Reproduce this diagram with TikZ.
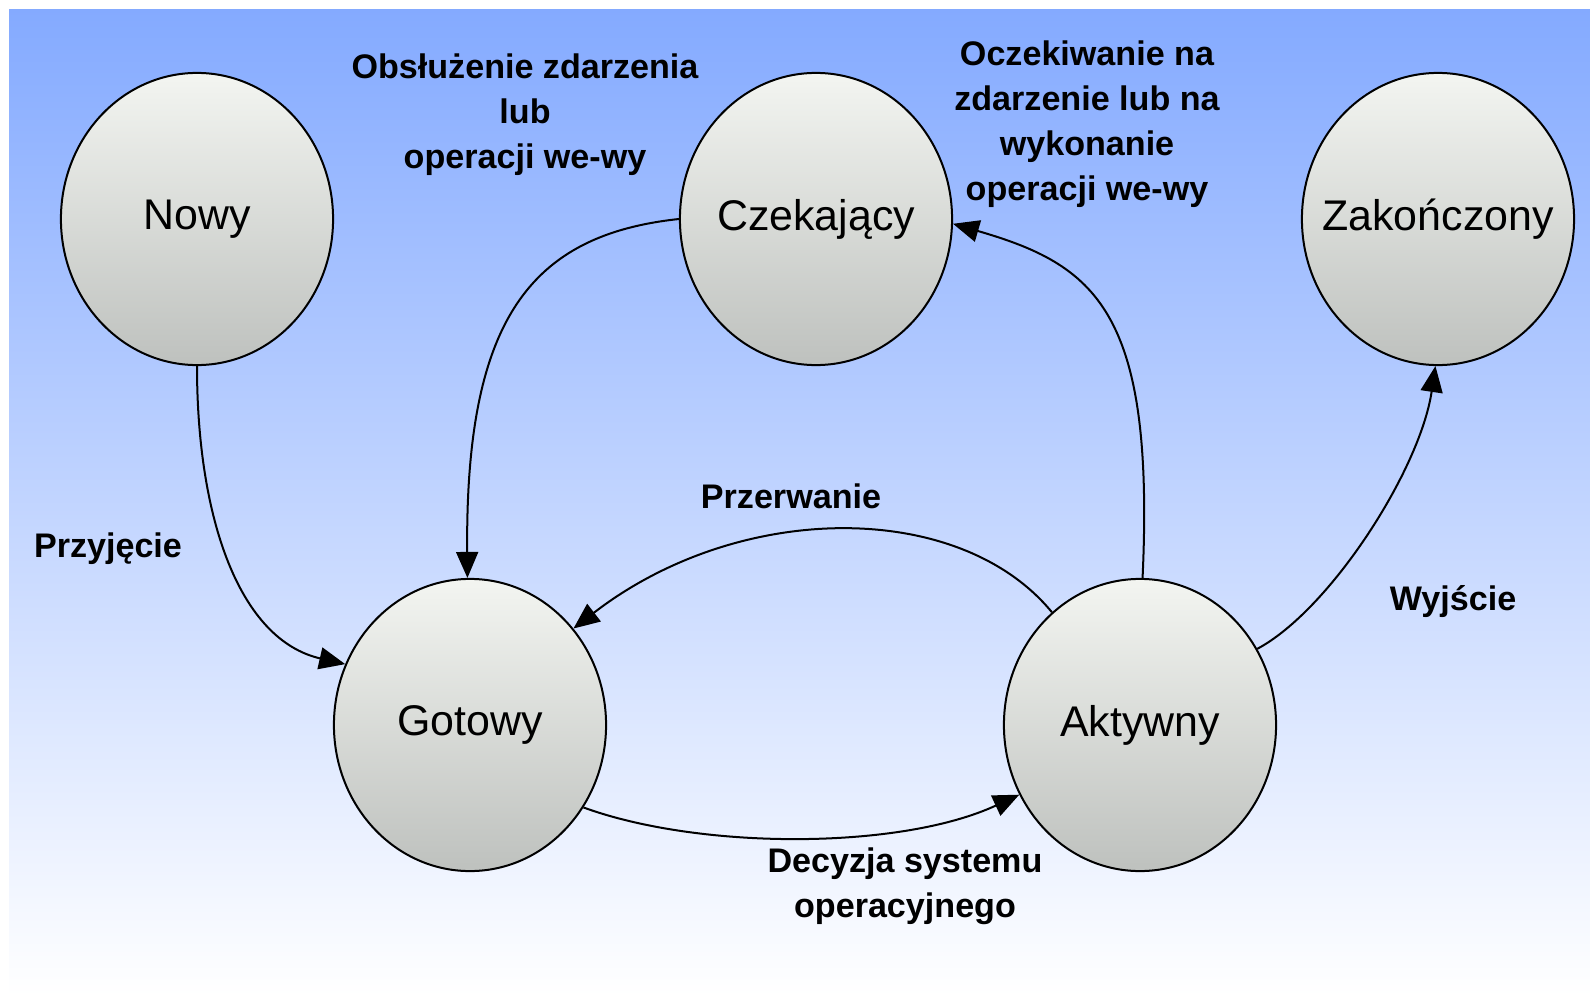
\documentclass[tikz,border=0pt]{standalone}
\usepackage{fontspec}
\setmainfont{Liberation Sans}
\usetikzlibrary{shapes.geometric,arrows.meta}

\definecolor{skyblue}{RGB}{132,170,255}
\definecolor{disctop}{RGB}{243,245,241}
\definecolor{discbot}{RGB}{190,193,190}

% state names are set in a zero-width box so that every disc keeps the same size
\newcommand{\stname}[1]{\makebox[0pt]{#1}}

\begin{document}
\begin{tikzpicture}[x=0.01cm,y=-0.01cm,
  state/.style={ellipse, draw=black, line width=0.02cm,
    minimum width=2.72cm, minimum height=2.92cm, inner sep=0pt,
    top color=disctop, bottom color=discbot,
    font=\fontsize{12.2pt}{14pt}\selectfont},
  lbl/.style={font=\bfseries\fontsize{9.7pt}{12.8pt}\selectfont,
    align=center, inner sep=0pt},
  trans/.style={line width=0.02cm, -{Triangle[length=0.26cm,width=0.22cm]}}]

% page and sky-blue backdrop
\useasboundingbox (0,0) rectangle (1590,1000);
\fill[white] (0,0) rectangle (1590,1000);
\shade[top color=skyblue, bottom color=white] (9,9) rectangle (1590,996);

% process states
\node[state] (nowy)    at (197,219)  {\stname{Nowy}};
\node[state] (czek)    at (816,219)  {\stname{Czekający}};
\node[state] (zak)     at (1438,219) {\stname{Zakończony}};
\node[state] (gotowy)  at (470,725)  {\stname{Gotowy}};
\node[state] (aktywny) at (1140,725) {\stname{Aktywny}};

% transitions
\draw[trans] (nowy.-90) .. controls (197,520) and (240,640) .. (gotowy.154);
\draw[trans] (czek.180) .. controls (530,235) and (465,320) .. (gotowy.91);
\draw[trans] (aktywny.89) .. controls (1155,310) and (1095,265) .. (czek.-2.5);
\draw[trans] (aktywny.128) .. controls (960,500) and (740,500) .. (gotowy.43);
\draw[trans] (gotowy.-36) .. controls (700,850) and (900,850) .. (aktywny.-150);
\draw[trans] (aktywny.33) .. controls (1330,610) and (1420,470) .. (zak.-91);

% transition labels
\node[lbl] (lobsl)  at (525,115)  {Obsłużenie zdarzenia\\lub\\operacji we-wy};
\node[lbl] (loczek) at (1087,124) {Oczekiwanie na\\zdarzenie lub na\\wykonanie\\operacji we-wy};
\node[lbl] (lprzyj) at (108,549)  {Przyjęcie};
\node[lbl] (lprzer) at (791,496)  {Przerwanie};
\node[lbl] (ldecyz) at (905,886)  {Decyzja systemu\\operacyjnego};
\node[lbl] (lwyjs)  at (1453,602) {Wyjście};
\end{tikzpicture}
\end{document}
